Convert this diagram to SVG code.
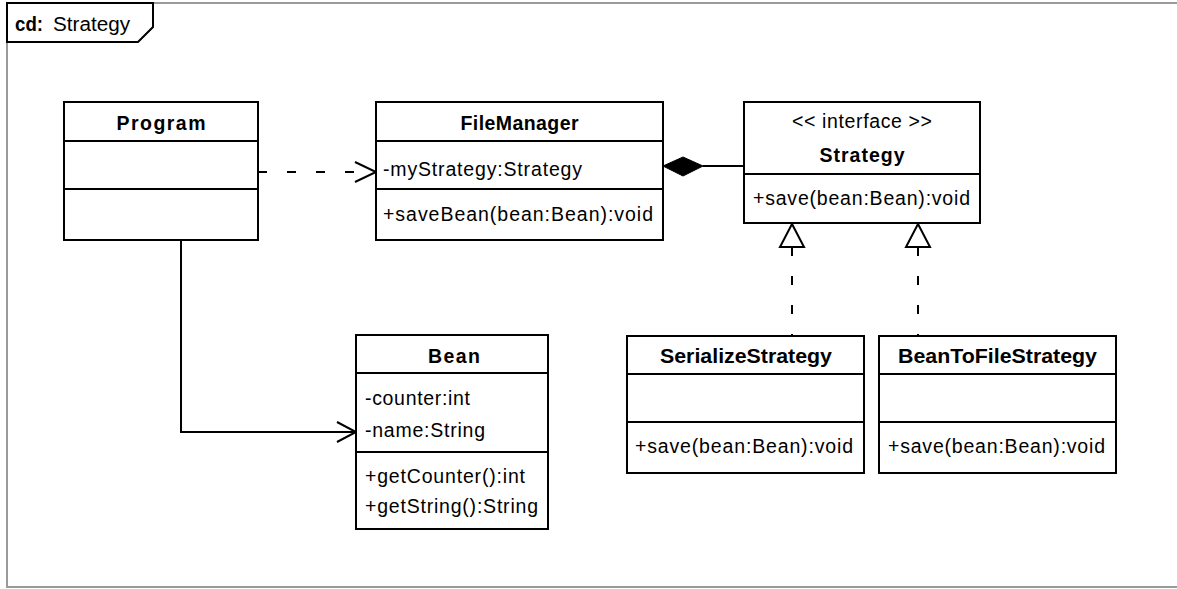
<svg xmlns="http://www.w3.org/2000/svg" width="1177" height="589" viewBox="0 0 1177 589">
<style>
.box{fill:#fff;stroke:#000;stroke-width:2}
.sep{stroke:#000;stroke-width:2}
.t{font-family:"Liberation Sans",Arial,sans-serif;font-size:19.5px;fill:#000}
.b{font-family:"Liberation Sans",Arial,sans-serif;font-size:19.5px;font-weight:bold;fill:#000}
.frame{stroke:#9a9a9a;stroke-width:2;fill:none}
.conn{stroke:#000;stroke-width:2;fill:none}
.dash{stroke-dasharray:9 20}
</style>
<rect width="1177" height="589" fill="#fff"/>
<g id="frame">
<path class="frame" d="M153 3H1177M7 42V587H1177"/>
<path d="M7 3H153V27L138 42H7Z" fill="#fff" stroke="#000" stroke-width="2"/>
<text x="15" y="31" class="b" textLength="28" lengthAdjust="spacingAndGlyphs">cd:</text>
<text x="53" y="31" class="t" textLength="77" lengthAdjust="spacingAndGlyphs">Strategy</text>
</g>
<g id="connectors">
<path class="conn dash" d="M258 172H374"/>
<path class="conn" d="M355 162L376 172L355 182"/>
<path d="M663 166L683 157L703 166L683 176Z" fill="#000" stroke="#000" stroke-width="1"/>
<path class="conn" d="M703 166H744"/>
<path class="conn dash" d="M792 247V336"/>
<path class="conn" d="M792 224L780 247H804Z" fill="#fff"/>
<path class="conn dash" d="M918 247V336"/>
<path class="conn" d="M918 224L906 247H930Z" fill="#fff"/>
<path class="conn" d="M181 240V432H354"/>
<path class="conn" d="M337 422L356 432L337 442"/>
</g>
<g id="Program">
<rect class="box" x="64" y="102" width="194" height="138"/>
<path class="sep" d="M64 141H258M64 189H258"/>
<text x="161" y="130" class="b" text-anchor="middle" textLength="89" lengthAdjust="spacing">Program</text>
</g>
<g id="FileManager">
<rect class="box" x="376" y="102" width="287" height="138"/>
<path class="sep" d="M376 141H663M376 189H663"/>
<text x="519.5" y="130" class="b" text-anchor="middle" textLength="118" lengthAdjust="spacing">FileManager</text>
<text x="383" y="176" class="t" textLength="199" lengthAdjust="spacing">-myStrategy:Strategy</text>
<text x="383" y="221" class="t" textLength="270" lengthAdjust="spacing">+saveBean(bean:Bean):void</text>
</g>
<g id="Strategy">
<rect class="box" x="744" y="102" width="236" height="121"/>
<path class="sep" d="M744 174H980"/>
<text x="862" y="128" class="t" text-anchor="middle" textLength="140" lengthAdjust="spacing">&lt;&lt; interface &gt;&gt;</text>
<text x="862" y="162" class="b" text-anchor="middle" textLength="85" lengthAdjust="spacing">Strategy</text>
<text x="753" y="205" class="t" textLength="217" lengthAdjust="spacing">+save(bean:Bean):void</text>
</g>
<g id="SerializeStrategy">
<rect class="box" x="627" y="336" width="237" height="137"/>
<path class="sep" d="M627 374H864M627 422H864"/>
<text x="746" y="363" class="b" text-anchor="middle" textLength="172" lengthAdjust="spacingAndGlyphs">SerializeStrategy</text>
<text x="635" y="453" class="t" textLength="218" lengthAdjust="spacing">+save(bean:Bean):void</text>
</g>
<g id="BeanToFileStrategy">
<rect class="box" x="879" y="336" width="237" height="137"/>
<path class="sep" d="M879 374H1116M879 422H1116"/>
<text x="997.5" y="363" class="b" text-anchor="middle" textLength="199" lengthAdjust="spacingAndGlyphs">BeanToFileStrategy</text>
<text x="888" y="453" class="t" textLength="217" lengthAdjust="spacing">+save(bean:Bean):void</text>
</g>
<g id="Bean">
<rect class="box" x="356" y="335" width="192" height="194"/>
<path class="sep" d="M356 373H548M356 452H548"/>
<text x="454" y="363" class="b" text-anchor="middle" textLength="52" lengthAdjust="spacing">Bean</text>
<text x="365" y="405" class="t" textLength="105" lengthAdjust="spacing">-counter:int</text>
<text x="365" y="437" class="t" textLength="120" lengthAdjust="spacing">-name:String</text>
<text x="365" y="483" class="t" textLength="160" lengthAdjust="spacing">+getCounter():int</text>
<text x="365" y="513" class="t" textLength="173" lengthAdjust="spacing">+getString():String</text>
</g>
</svg>
